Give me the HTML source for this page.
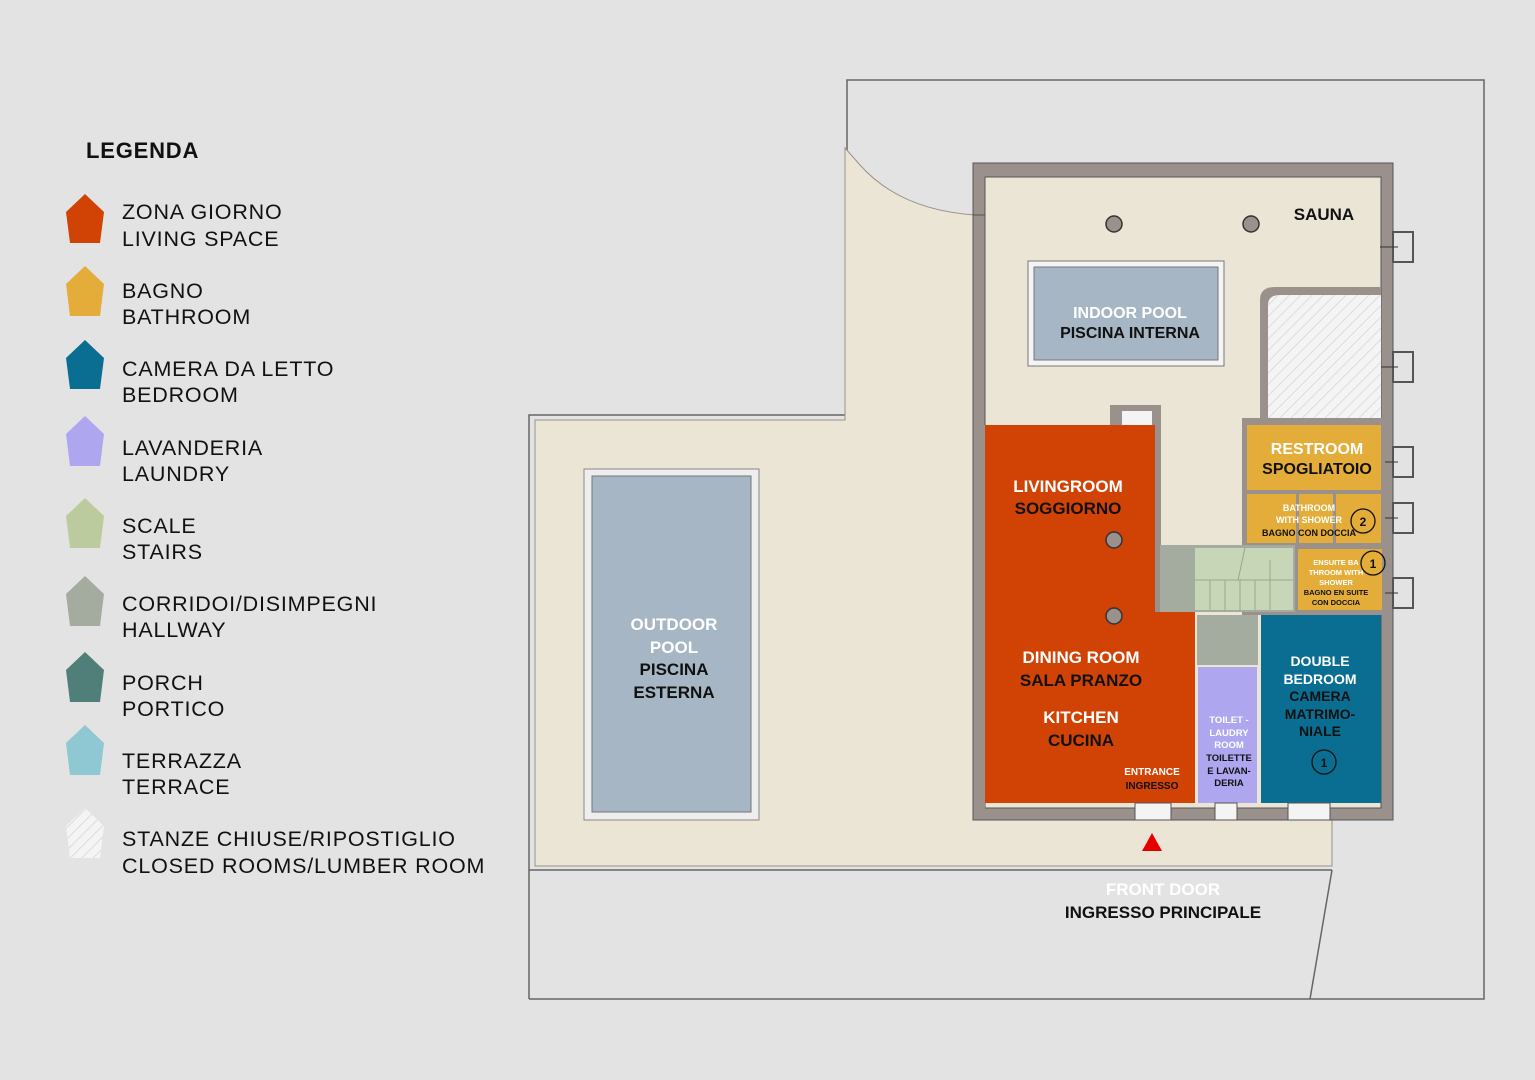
<!DOCTYPE html>
<html><head><meta charset="utf-8"><style>
html,body{margin:0;padding:0;background:#e3e3e3;}
svg{display:block;}
text{font-family:"Liberation Sans",sans-serif;}
.lg{font-size:21.5px;fill:#111;letter-spacing:0.8px;}
.b{font-weight:bold;}
</style></head><body>
<svg width="1535" height="1080" viewBox="0 0 1535 1080" xmlns="http://www.w3.org/2000/svg">
<defs>
<pattern id="h" width="8" height="8" patternUnits="userSpaceOnUse" patternTransform="rotate(45)">
<rect width="8" height="8" fill="#f4f4f4"/><line x1="0" y1="0" x2="0" y2="8" stroke="#dcdcdc" stroke-width="2"/>
</pattern>
</defs>
<rect width="1535" height="1080" fill="#e3e3e3"/>
<!-- legend -->
<text x="86" y="158" class="b" style="font-size:22px;fill:#111;letter-spacing:0.8px">LEGENDA</text>
<g>
<polygon points="85,194 104,212 100,243 70,243 66,212" fill="#d14205"/>
<text x="122" y="219" class="lg">ZONA GIORNO</text><text x="122" y="246" class="lg">LIVING SPACE</text>
<polygon points="85,266 104,284 100,316 70,316 66,284" fill="#e4ad3a"/>
<text x="122" y="298" class="lg">BAGNO</text><text x="122" y="324" class="lg">BATHROOM</text>
<polygon points="85,340 104,358 100,389 70,389 66,358" fill="#0a6e92"/>
<text x="122" y="376" class="lg">CAMERA DA LETTO</text><text x="122" y="402" class="lg">BEDROOM</text>
<polygon points="85,416 104,434 100,466 70,466 66,434" fill="#aea6ef"/>
<text x="122" y="455" class="lg">LAVANDERIA</text><text x="122" y="481" class="lg">LAUNDRY</text>
<polygon points="85,498 104,516 100,548 70,548 66,516" fill="#bccb9e"/>
<text x="122" y="533" class="lg">SCALE</text><text x="122" y="559" class="lg">STAIRS</text>
<polygon points="85,576 104,594 100,626 70,626 66,594" fill="#a4ab9f"/>
<text x="122" y="611" class="lg">CORRIDOI/DISIMPEGNI</text><text x="122" y="637" class="lg">HALLWAY</text>
<polygon points="85,652 104,670 100,702 70,702 66,670" fill="#4f7f78"/>
<text x="122" y="690" class="lg">PORCH</text><text x="122" y="716" class="lg">PORTICO</text>
<polygon points="85,725 104,743 100,775 70,775 66,743" fill="#8fc7d2"/>
<text x="122" y="768" class="lg">TERRAZZA</text><text x="122" y="794" class="lg">TERRACE</text>
<polygon points="85,808 104,826 100,858 70,858 66,826" fill="url(#h)"/>
<text x="122" y="846" class="lg">STANZE CHIUSE/RIPOSTIGLIO</text><text x="122" y="873" class="lg">CLOSED ROOMS/LUMBER ROOM</text>
</g>
<!-- property lines -->
<polyline points="529,999 529,415 847,415 847,80 1484,80 1484,999 529,999" fill="none" stroke="#666" stroke-width="1.5"/>
<line x1="529" y1="870" x2="1332" y2="870" stroke="#666" stroke-width="1.5"/>
<line x1="1332" y1="870" x2="1310" y2="999" stroke="#666" stroke-width="1.5"/>
<!-- terrace -->
<path d="M535,866 L535,420 L845,420 L845,148 L860,165 Q900,210 975,215 L975,165 L1392,165 L1392,820 L1332,820 L1332,866 Z" fill="#ebe5d5" stroke="#9a918c" stroke-width="1"/>
<!-- building walls -->
<path d="M973,163 H1393 V820 H973 V215 H985 V808 H1381 V177 H985 V215 H973 Z" fill="#9a918c" stroke="#555" stroke-width="1"/>
<!-- right window boxes -->
<g fill="#e3e3e3" stroke="#555" stroke-width="2">
<rect x="1393" y="232" width="20" height="30"/><rect x="1393" y="352" width="20" height="30"/>
<rect x="1393" y="447" width="20" height="30"/><rect x="1393" y="503" width="20" height="30"/>
<rect x="1393" y="578" width="20" height="30"/>
</g>
<g stroke="#333" stroke-width="1"><line x1="1380" y1="247" x2="1398" y2="247"/><line x1="1380" y1="367" x2="1398" y2="367"/><line x1="1380" y1="462" x2="1398" y2="462"/><line x1="1380" y1="518" x2="1398" y2="518"/><line x1="1380" y1="593" x2="1398" y2="593"/></g>
<!-- indoor pool -->
<rect x="1028" y="261" width="196" height="105" fill="#f4f4f4" stroke="#777"/>
<rect x="1034" y="267" width="184" height="93" fill="#a6b6c4" stroke="#777"/>
<text x="1130" y="318" text-anchor="middle" class="b" style="font-size:16px;fill:#fff">INDOOR POOL</text>
<text x="1130" y="338" text-anchor="middle" class="b" style="font-size:16px;fill:#111">PISCINA INTERNA</text>
<!-- closed room -->
<path d="M1260,425 V300 Q1260,287 1275,287 H1381 V425 Z" fill="#9a918c"/>
<path d="M1268,420 V305 Q1268,295 1280,295 H1381 V420 Z" fill="url(#h)"/>
<text x="1324" y="220" text-anchor="middle" class="b" style="font-size:17px;fill:#111">SAUNA</text>
<g fill="#9a918c" stroke="#333" stroke-width="1.5">
<circle cx="1114" cy="224" r="8"/><circle cx="1251" cy="224" r="8"/>
</g>
<!-- interior walls -->
<rect x="1155" y="405" width="6" height="210" fill="#9a918c"/>
<rect x="1110" y="405" width="50" height="20" fill="#9a918c"/>
<rect x="1122" y="411" width="30" height="14" fill="#f4f4f4"/>
<rect x="1242" y="418" width="143" height="197" fill="#9a918c"/>
<!-- living/dining -->
<path d="M980,425 H1155 V612 H1195 V803 H980 Z" fill="#d14205"/>
<rect x="980" y="425" width="5" height="385" fill="#9a918c"/>
<!-- halls -->
<rect x="1160" y="545" width="135" height="67" fill="#a4ab9f"/>
<rect x="1195" y="548" width="98" height="62" fill="#c8d6b8"/>
<g stroke="#9aa88a" stroke-width="1"><line x1="1195" y1="580" x2="1293" y2="580"/><line x1="1210" y1="580" x2="1210" y2="610"/><line x1="1225" y1="580" x2="1225" y2="610"/><line x1="1240" y1="580" x2="1240" y2="610"/><line x1="1255" y1="580" x2="1255" y2="610"/><line x1="1270" y1="560" x2="1270" y2="610"/><line x1="1245" y1="548" x2="1238" y2="580"/></g>
<rect x="1197" y="615" width="61" height="50" fill="#a4ab9f"/>
<rect x="1198" y="667" width="59" height="136" fill="#aea6ef"/>
<rect x="1261" y="615" width="120" height="188" fill="#0a6e92"/>
<!-- yellow -->
<rect x="1247" y="425" width="134" height="65" fill="#e4ad3a"/>
<rect x="1247" y="494" width="134" height="49" fill="#e4ad3a"/>
<rect x="1296" y="494" width="3" height="49" fill="#9a918c"/><rect x="1333" y="494" width="3" height="49" fill="#9a918c"/>
<rect x="1298" y="549" width="84" height="61" fill="#e4ad3a"/>
<g fill="#9a918c" stroke="#333" stroke-width="1.5"><circle cx="1114" cy="540" r="8"/><circle cx="1114" cy="616" r="8"/></g>
<!-- door gaps bottom -->
<rect x="1135" y="803" width="36" height="17" fill="#f4f4f4" stroke="#555"/>
<rect x="1215" y="803" width="22" height="17" fill="#f4f4f4" stroke="#555"/>
<rect x="1288" y="803" width="42" height="17" fill="#f4f4f4" stroke="#555"/>
<polygon points="1152,833 1162,851 1142,851" fill="#e50000"/>
<!-- room labels -->
<g class="b" text-anchor="middle">
<text x="1068" y="492" style="font-size:17px;fill:#fff">LIVINGROOM</text>
<text x="1068" y="514" style="font-size:17px;fill:#111">SOGGIORNO</text>
<text x="1081" y="663" style="font-size:17px;fill:#fff">DINING ROOM</text>
<text x="1081" y="686" style="font-size:17px;fill:#111">SALA PRANZO</text>
<text x="1081" y="723" style="font-size:17px;fill:#fff">KITCHEN</text>
<text x="1081" y="746" style="font-size:17px;fill:#111">CUCINA</text>
<text x="1152" y="775" style="font-size:10px;fill:#fff">ENTRANCE</text>
<text x="1152" y="789" style="font-size:10px;fill:#111">INGRESSO</text>
<text x="1317" y="454" style="font-size:16px;fill:#fff">RESTROOM</text>
<text x="1317" y="474" style="font-size:16px;fill:#111">SPOGLIATOIO</text>
<text x="1309" y="511" style="font-size:9px;fill:#fff">BATHROOM</text>
<text x="1309" y="523" style="font-size:9px;fill:#fff">WITH SHOWER</text>
<text x="1309" y="536" style="font-size:9px;fill:#111">BAGNO CON DOCCIA</text>
<text x="1336" y="565" style="font-size:7.5px;fill:#fff">ENSUITE BA</text>
<text x="1336" y="575" style="font-size:7.5px;fill:#fff">THROOM WITH</text>
<text x="1336" y="585" style="font-size:7.5px;fill:#fff">SHOWER</text>
<text x="1336" y="595" style="font-size:7.5px;fill:#111">BAGNO EN SUITE</text>
<text x="1336" y="605" style="font-size:7.5px;fill:#111">CON DOCCIA</text>
<text x="1229" y="723" style="font-size:9.5px;fill:#fff">TOILET -</text>
<text x="1229" y="736" style="font-size:9.5px;fill:#fff">LAUDRY</text>
<text x="1229" y="748" style="font-size:9.5px;fill:#fff">ROOM</text>
<text x="1229" y="761" style="font-size:9.5px;fill:#111">TOILETTE</text>
<text x="1229" y="774" style="font-size:9.5px;fill:#111">E LAVAN-</text>
<text x="1229" y="786" style="font-size:9.5px;fill:#111">DERIA</text>
<text x="1320" y="666" style="font-size:14px;fill:#fff">DOUBLE</text>
<text x="1320" y="684" style="font-size:14px;fill:#fff">BEDROOM</text>
<text x="1320" y="701" style="font-size:14px;fill:#111">CAMERA</text>
<text x="1320" y="719" style="font-size:14px;fill:#111">MATRIMO-</text>
<text x="1320" y="736" style="font-size:14px;fill:#111">NIALE</text>
</g>
<g fill="none" stroke="#111" stroke-width="1.3">
<circle cx="1324" cy="762" r="12"/><circle cx="1363" cy="521" r="12"/><circle cx="1373" cy="563" r="12"/>
</g>
<g class="b" text-anchor="middle" style="font-size:12px;fill:#111">
<text x="1324" y="767">1</text><text x="1363" y="526">2</text><text x="1373" y="568">1</text>
</g>
<!-- outdoor pool -->
<rect x="584" y="469" width="175" height="351" fill="#eeeeee" stroke="#888"/>
<rect x="592" y="476" width="159" height="336" fill="#a6b6c4" stroke="#777"/>
<g class="b" text-anchor="middle" style="font-size:17px">
<text x="674" y="630" fill="#fff">OUTDOOR</text><text x="674" y="653" fill="#fff">POOL</text>
<text x="674" y="675" fill="#111">PISCINA</text><text x="674" y="698" fill="#111">ESTERNA</text>
</g>
<g class="b" text-anchor="middle" style="font-size:17px">
<text x="1163" y="895" fill="#fff">FRONT DOOR</text>
<text x="1163" y="918" fill="#111">INGRESSO PRINCIPALE</text>
</g>
</svg>
</body></html>
